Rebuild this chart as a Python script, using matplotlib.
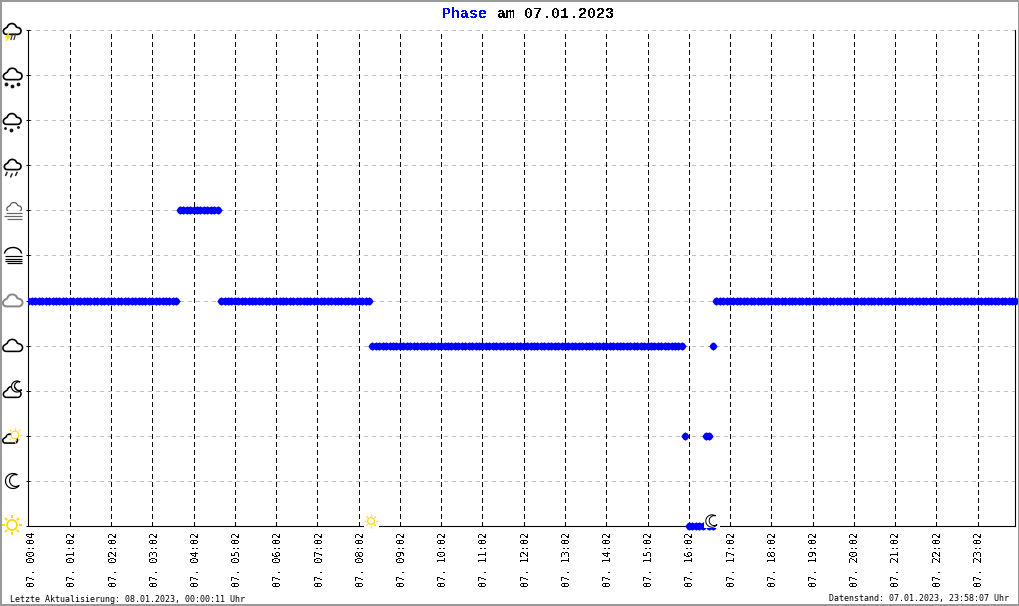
import numpy as np
import matplotlib
matplotlib.use("Agg")
import matplotlib.pyplot as plt
from matplotlib.patches import Rectangle, Circle, Polygon
from matplotlib.path import Path
from matplotlib.transforms import Bbox, ScaledTranslation

# ---------- data (one sample every 5 min, level = weather phase) ----------
run_levels = [5, 7, 5, 4, 2, 0, 2, 4, 5]
run_lengths = [44, 12, 44, 91, 1, 5, 2, 1, 88]
extra_samples = [198, 199]      # second reading on the bottom level, mostly under the moon icon
extra_levels = [0, 0]
level_ids = list(range(12))
tick_samples = [0, 12, 24, 36, 48, 60, 72, 84, 96, 108, 120, 132, 144, 156,
                168, 180, 192, 204, 216, 228, 240, 252, 264, 276]
tick_labels = ["07. 00:04", "07. 01:02", "07. 02:02", "07. 03:02", "07. 04:02", "07. 05:02",
               "07. 06:02", "07. 07:02", "07. 08:02", "07. 09:02", "07. 10:02", "07. 11:02",
               "07. 12:02", "07. 13:02", "07. 14:02", "07. 15:02", "07. 16:02", "07. 17:02",
               "07. 18:02", "07. 19:02", "07. 20:02", "07. 21:02", "07. 22:02", "07. 23:02"]
title_word = "Phase"
title_rest = "am 07.01.2023"
footer_left = "Letzte Aktualisierung: 08.01.2023, 00:00:11 Uhr"
footer_right = "Datenstand: 07.01.2023, 23:58:07 Uhr"

levels = np.repeat(run_levels, run_lengths)
samples = np.arange(len(levels))

plt.rcParams["font.family"] = ["DejaVu Sans Mono"]
plt.rcParams["text.antialiased"] = False
plt.rcParams["lines.scale_dashes"] = False

W, H = 1020, 606
PX = 0.72
fig = plt.figure(figsize=(W / 100, H / 100), dpi=100, facecolor="white")
ax = fig.add_axes([28.5 / W, (H - 526) / H, 987 / W, 496 / H])
ax.set_xlim(0, 287)
ax.set_ylim(0, 11)
ax.spines["top"].set_visible(False)
for s in ("left", "right", "bottom"):
    ax.spines[s].set_linewidth(PX * 1.1)
    ax.spines[s].set_zorder(2)

ax.set_yticks(level_ids)
ax.set_yticklabels([])
ax.tick_params(axis="y", direction="inout", length=5 * PX, width=PX)
ax.set_xticks(tick_samples)
ax.set_xticklabels(tick_labels, rotation=90, fontsize=7.25, ha="center", va="top")
ax.tick_params(axis="x", length=0, pad=4.5)
for i, lab in enumerate(ax.get_xticklabels()):
    shift = 3.2 if i == 0 else 2.6 - 0.065 * i
    lab.set_transform(lab.get_transform() + ScaledTranslation(shift / 100, 0, fig.dpi_scale_trans))
ax.set_axisbelow(True)
ax.grid(axis="y", color="#c0c0c0", lw=PX, linestyle=(0, (4 * PX, 4.5 * PX)), antialiased=False)
for x in tick_samples[1:]:
    ax.plot([x, x], [0, 11], color="black", lw=PX * 1.1, linestyle=(0, (5 * PX, 3.2 * PX)),
            antialiased=False, zorder=1)

# rounded diamond: the runs read as a nearly solid band with small notches
blob = Path([(1, 0), (0.5, 0.72), (0, 1), (-0.5, 0.72), (-1, 0), (-0.5, -0.72), (0, -1), (0.5, -0.72), (1, 0)], closed=True)
clip = Bbox([[27.6, 0], [1020, 606]])
for xs, ys in ((samples, levels), (extra_samples, extra_levels)):
    line, = ax.plot(xs, ys, ls="none", marker=blob, ms=6.0, mfc="#0000ff", mec="#0000ff", mew=0,
                    zorder=3, antialiased=False)
    line.set_clip_box(clip)

# ---------- overlay in pixel coordinates: frame, weather icons ----------
ov = fig.add_axes([0, 0, 1, 1], facecolor="none", zorder=10)
ov.set_xlim(0, W)
ov.set_ylim(H, 0)
ov.axis("off")

ov.add_patch(Rectangle((1, 1), W - 2, H - 2, fill=False, ec="#999999", lw=2 * PX, antialiased=False))

YEL = "#ffd800"


def cloud(cx, cy, w, color="black", lw=1.7, fc="white"):
    """Cloud outline centred on (cx, cy), flat base, width w in pixels."""
    u = w / 2
    pts = []
    for c_x, c_y, r, a0, a1 in [(0.62, 0.16, 0.38, -90, 60), (-0.02, -0.14, 0.52, 15, 165), (-0.62, 0.2, 0.34, 120, 270)]:
        for t in np.radians(np.linspace(a0, a1, 14)):
            pts.append((cx + u * (c_x + r * np.cos(t)), cy + u * (c_y - r * np.sin(t))))
    ov.add_patch(Polygon(pts, closed=True, fc=fc, ec=color, lw=lw * PX, joinstyle="round"))


def sun(cx, cy, r, rays_in, rays_out, lw=1.6, fc="white", zorder=3):
    for t in np.radians(np.arange(0, 360, 45)):
        ov.plot([cx + rays_in * np.cos(t), cx + rays_out * np.cos(t)],
                [cy + rays_in * np.sin(t), cy + rays_out * np.sin(t)], color=YEL, lw=lw * PX,
                solid_capstyle="butt", zorder=zorder)
    ov.add_patch(Circle((cx, cy), r, fc=fc, ec=YEL, lw=lw * PX, zorder=zorder))


def moon(cx, cy, r, lw=1.3, color="black", zorder=3):
    """Crescent opening towards the upper right; both arcs meet at the two tips."""
    axis = np.radians(10)
    outer_t = axis + np.radians(np.linspace(45, 315, 40))
    outer = [(cx + r * np.cos(a), cy - r * np.sin(a)) for a in outer_t]
    ic = (cx + 0.3447 * r * np.cos(axis), cy - 0.3447 * r * np.sin(axis))
    rho = 0.7947 * r
    inner_t = axis + np.radians(np.linspace(297.1, 62.9, 30))
    inner = [(ic[0] + rho * np.cos(a), ic[1] - rho * np.sin(a)) for a in inner_t]
    ov.add_patch(Polygon(outer + inner, closed=True, fc="white", ec=color, lw=lw * PX, zorder=zorder))


def dots(xs, ys, size, marker="o", color="#111111"):
    ov.plot(xs, ys, ls="none", marker=marker, ms=size * PX, color=color, mew=0)


def bars(x0, x1, ys, color, lw=1.2):
    for y in ys:
        ov.plot([x0, x1], [y, y], color=color, lw=lw * PX, solid_capstyle="butt")


# thunderstorm
cloud(12, 29.5, 18)
ov.add_patch(Polygon([(9, 32.5), (5.5, 37.5), (7.7, 37.5), (6, 41.5), (10.5, 36), (8.3, 36)], closed=True, fc=YEL, ec=YEL, lw=0.4))
for x in (12.5, 15.5):
    ov.plot([x, x - 1.5], [34, 39.5], color="#333333", lw=1.2 * PX)
# snow
cloud(12.5, 74.5, 19)
dots([6, 12.5, 18.5], [84, 85.5, 83.5], 4, marker="8")
# sleet
cloud(12, 119.5, 18)
dots([5.5, 18], [127.5, 127], 2.8)
dots([11.5], [129.5], 4, marker="8")
# rain
cloud(12.5, 165, 17)
for x, y in ((7, 172.5), (12, 174), (17, 172.5)):
    ov.plot([x, x - 1.3], [y, y + 2.8], color="#222222", lw=1.5 * PX)
# mist
cloud(14, 207.5, 15, color="#555555", lw=1.2)
ov.add_patch(Rectangle((3, 210.5), 20, 10, fc="white", ec="none"))
bars(6, 22, [213], "#666666")
bars(4, 22, [216], "#666666")
bars(7, 22, [219], "#666666")
# fog
t = np.radians(np.linspace(10, 170, 20))
ov.plot(13 + 8.5 * np.cos(t), 254 - 6.5 * np.sin(t), color="black", lw=1.4 * PX)
bars(5, 22, [256, 258.5, 261], "black", lw=1.2)
bars(7, 22, [263.3], "black", lw=1.2)
# overcast / cloudy
cloud(12.5, 301, 20, color="#888888", lw=2.0)
cloud(12.5, 346, 20, lw=1.6)
# cloud + moon
moon(17, 386.5, 5.5, lw=1.2)
cloud(12, 392.5, 18, lw=1.6)
# cloud + sun
sun(15, 435, 3.8, 5.2, 7.5, lw=1.0)
cloud(10, 439, 15, lw=1.6)
# moon
moon(13, 481, 7.5, lw=1.2)
# sun (bottom level)
sun(12, 525, 5, 6.8, 10, lw=1.8)

# sunrise / sunset markers, with their white ground over the axis line
ov.add_patch(Rectangle((364, 513), 15, 15, fc="white", ec="none", zorder=5))
ov.add_patch(Rectangle((704.5, 513), 15.5, 15, fc="white", ec="none", zorder=5))
sun(371, 521, 3.4, 4.6, 6.6, lw=1.2, zorder=6)
moon(712, 521, 6.2, lw=1.0, zorder=6)

# ---------- texts ----------
ov.text(442, 13.5, title_word, color="#0000ff", fontsize=10.8, va="center", ha="left",
        family="Liberation Mono", fontweight="bold")
ov.text(497, 13.5, title_rest, color="black", fontsize=10.8, va="center", ha="left",
        family="Liberation Mono", fontweight="bold")
ov.text(10, 599, footer_left, color="black", fontsize=6, va="center", ha="left", antialiased=True)
ov.text(1009, 599, footer_right, color="black", fontsize=6, va="center", ha="right", antialiased=True)

fig.savefig("out.png", dpi=100, facecolor="white")
